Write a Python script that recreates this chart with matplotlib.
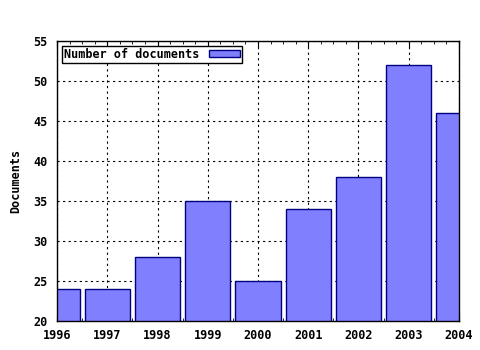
import matplotlib
matplotlib.use("Agg")
import matplotlib.pyplot as plt
from matplotlib.ticker import MultipleLocator

years = [1996, 1997, 1998, 1999, 2000, 2001, 2002, 2003, 2004]
documents = [24, 24, 28, 35, 25, 34, 38, 52, 46]

plt.rcParams["font.family"] = "DejaVu Sans Mono"
plt.rcParams["font.weight"] = "bold"
plt.rcParams["font.size"] = 8.5

fig = plt.figure(figsize=(4.8, 3.5), dpi=100)
ax = fig.add_axes([0.119, 0.083, 0.837, 0.8])

ax.bar(years, documents, width=0.9, bottom=0, color="#8080ff",
       edgecolor="#000080", linewidth=1, label="Number of documents", zorder=2)

ax.set_xlim(1996, 2004)
ax.set_ylim(20, 55)
ax.set_xticks(years)
ax.set_yticks(range(20, 56, 5))
ax.xaxis.set_minor_locator(MultipleLocator(0.25))
ax.tick_params(which="both", direction="in", top=True, right=True, length=4)
ax.tick_params(axis="x", which="minor", length=2)
ax.tick_params(axis="x", which="major", pad=6)
ax.tick_params(axis="y", which="major", length=0, pad=7)
ax.grid(True, which="major", color="black", linestyle=(0, (2, 3)), linewidth=0.8, zorder=1)
ax.set_axisbelow(True)
for s in ax.spines.values():
    s.set_linewidth(1)
    s.set_zorder(3)

ax.set_ylabel("Documents", fontweight="bold", labelpad=8)

leg = ax.legend(loc="upper left", markerfirst=False, fancybox=False, framealpha=1,
                edgecolor="black", borderpad=0.2, handlelength=2.6, handleheight=0.5,
                borderaxespad=0.4, handletextpad=0.8)
leg.get_frame().set_linewidth(1)

fig.savefig("out.png", dpi=100)
